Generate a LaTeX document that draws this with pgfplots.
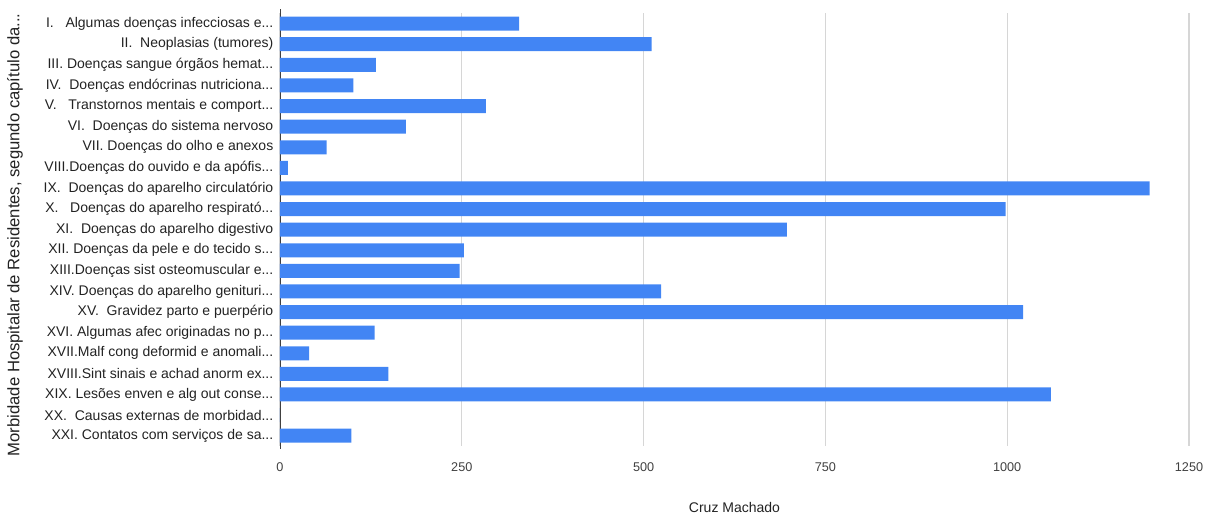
\documentclass[border=0pt]{standalone}
\usepackage{fontspec}
\setmainfont{Liberation Sans}
\usepackage{pgfplots}
\pgfplotsset{compat=1.18}
\definecolor{barblue}{HTML}{4285F4}
\definecolor{gridgray}{HTML}{D6D6D6}
\definecolor{txt}{HTML}{222222}
\def\el{...}
\begin{document}
\begin{tikzpicture}[x=1pt,y=1pt]
% page frame in pt (1 px of the reference = 0.75 pt)
\path (-210,-52.5) rectangle (703.5,334.5);
\begin{axis}[
  at={(0,0)}, anchor=south west,
  scale only axis,
  width=681.75pt, height=324.5pt,
  xbar, bar width=10.5pt,
  xmin=0, xmax=1250,
  ymin=0.5, ymax=21.5, y dir=reverse,
  xtick={0,250,500,750,1000,1250},
  ytick={1,2,3,4,5,6,7,8,9,10,11,12,13,14,15,16,17,18,19,20,21},
  yticklabels={
    {I.\ \ \ Algumas doenças infecciosas e\el},
    {II.\ \ Neoplasias (tumores)},
    {III. Doenças sangue órgãos hemat\el},
    {IV.\ \ Doenças endócrinas nutriciona\el},
    {V.\ \ \ Transtornos mentais e comport\el},
    {VI.\ \ Doenças do sistema nervoso},
    {VII. Doenças do olho e anexos},
    {VIII.Doenças do ouvido e da apófis\el},
    {IX.\ \ Doenças do aparelho circulatório},
    {X.\ \ \ Doenças do aparelho respirató\el},
    {XI.\ \ Doenças do aparelho digestivo},
    {XII. Doenças da pele e do tecido s\el},
    {XIII.Doenças sist osteomuscular e\el},
    {XIV. Doenças do aparelho genituri\el},
    {XV.\ \ Gravidez parto e puerpério},
    {XVI. Algumas afec originadas no p\el},
    {XVII.Malf cong deformid e anomali\el},
    {XVIII.Sint sinais e achad anorm ex\el},
    {XIX. Lesões enven e alg out conse\el},
    {XX.\ \ Causas externas de morbidad\el},
    {XXI. Contatos com serviços de sa\el}},
  axis lines*=left,
  axis line style={-},
  x axis line style={draw=none},
  y axis line style={draw=black!75, shorten <=-3pt, shorten >=-2pt},
  major tick length=0pt,
  xmajorgrids,
  major grid style={gridgray, line width=0.8pt},
  /pgf/number format/assume math mode=true,
  /pgf/number format/1000 sep={},
  scaled ticks=false,
  yticklabel style={font=\fontsize{10.5}{12}\selectfont, text=txt, xshift=-1.5pt},
  xticklabel style={font=\fontsize{9.5}{11}\selectfont, yshift=-9pt, text=black!75},
  xlabel={Cruz Machado},
  ylabel={Morbidade Hospitalar de Residentes, segundo capítulo da\el},
  xlabel style={font=\fontsize{10.5}{12}\selectfont, text=txt,
    at={(axis description cs:0.5,0)}, anchor=center, yshift=-45.75pt},
  ylabel style={font=\fontsize{12.5}{14}\selectfont, text=txt,
    at={(axis description cs:-0.2915,0.488)}, anchor=center},
]
\addplot[fill=barblue, draw=none] coordinates {
  (329,1) (511,2) (132,3) (101,4) (283,5) (173,6) (64,7) (11,8)
  (1196,9) (998,10) (697,11) (253,12) (247,13) (524,14) (1022,15)
  (130,16) (40,17) (149,18) (1060,19) (0,20) (98,21)
};
\end{axis}
\end{tikzpicture}
\end{document}
